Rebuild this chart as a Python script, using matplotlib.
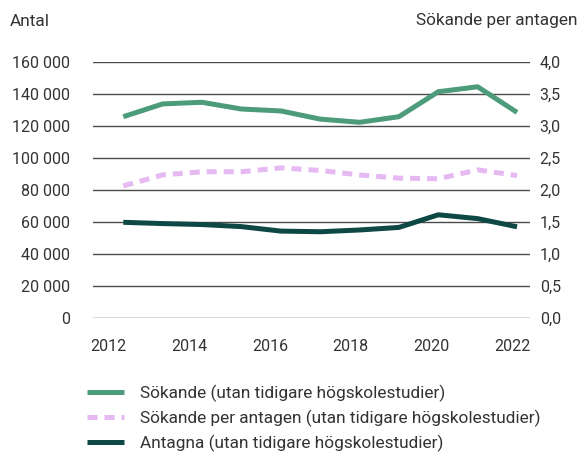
import matplotlib
matplotlib.use("Agg")
import matplotlib.pyplot as plt

years = [2012, 2013, 2014, 2015, 2016, 2017, 2018, 2019, 2020, 2021, 2022]
sokande = [126000, 134000, 135000, 130800, 129600, 124500, 122500, 126000, 141600, 144700, 128700]
antagna = [60000, 59200, 58600, 57300, 54500, 54100, 55200, 56800, 64700, 62300, 57200]
ratio = [2.07, 2.24, 2.29, 2.29, 2.35, 2.31, 2.24, 2.19, 2.18, 2.32, 2.23]

tick_years = [2012, 2014, 2016, 2018, 2020, 2022]
left_ticks = [0, 20000, 40000, 60000, 80000, 100000, 120000, 140000, 160000]
right_ticks = [0.0, 0.5, 1.0, 1.5, 2.0, 2.5, 3.0, 3.5, 4.0]

labels = ["Sökande (utan tidigare högskolestudier)",
          "Sökande per antagen (utan tidigare högskolestudier)",
          "Antagna (utan tidigare högskolestudier)"]

GREEN = "#4c9b7b"
PINK = "#e6b9f3"
DARK = "#0d4844"
TXT = "#333333"
GRID = "#4a4a4a"

plt.rcParams['font.family'] = ['Roboto', 'DejaVu Sans']
fs = 11.5
fs_txt = 12.4

fig = plt.figure(figsize=(5.81, 4.54), dpi=100)
ax = fig.add_axes([93/581, 1-318.3/454, (530-93)/581, (318.3-62.3)/454])
ax2 = ax.twinx()

ax.set_ylim(0, 160000)
ax2.set_ylim(0, 4)
ax.set_xlim(2011.23, 2022.33)

for v in left_ticks:
    ax.axhline(v, color=GRID, lw=1.0, zorder=0)

l1, = ax.plot(years, sokande, color=GREEN, lw=3.6, solid_capstyle='butt', zorder=3)
l3, = ax.plot(years, antagna, color=DARK, lw=3.6, solid_capstyle='butt', zorder=3)
l2, = ax2.plot(years, ratio, color=PINK, lw=3.6, dashes=(2.0, 1.4), zorder=3)

ax.set_yticks(left_ticks)
ax.set_yticklabels([f"{v:,}".replace(",", " ") for v in left_ticks])
ax2.set_yticks(right_ticks)
ax2.set_yticklabels([f"{v:.1f}".replace(".", ",") for v in right_ticks])

# tick labels sit slightly offset from data points (category-style axis)
tick_pos = [2011.61 + (y - 2012) * 1.028 for y in tick_years]
ax.set_xticks(tick_pos)
ax.set_xticklabels([str(y) for y in tick_years])

for a in (ax, ax2):
    for s in a.spines.values():
        s.set_visible(False)
ax.tick_params(axis='y', length=0, pad=16.5, labelsize=fs, labelcolor=TXT)
ax2.tick_params(axis='y', length=0, pad=7, labelsize=fs, labelcolor=TXT)
ax.tick_params(axis='x', length=0, pad=15, labelsize=fs, labelcolor=TXT)

fig.text(10/581, 1-21/454, "Antal", fontsize=fs_txt, color=TXT, ha='left', va='center')
fig.text(577/581, 1-21/454, "Sökande per antagen", fontsize=fs_txt, color=TXT, ha='right', va='center')

leg = fig.legend([l1, l2, l3], labels, loc='upper left',
                 bbox_to_anchor=(87/581, 1-385/454), frameon=False,
                 fontsize=fs_txt, handlelength=2.15, handletextpad=0.9,
                 labelspacing=0.45, borderaxespad=0, borderpad=0)
for t in leg.get_texts():
    t.set_color(TXT)

fig.savefig("out.png", dpi=100)
